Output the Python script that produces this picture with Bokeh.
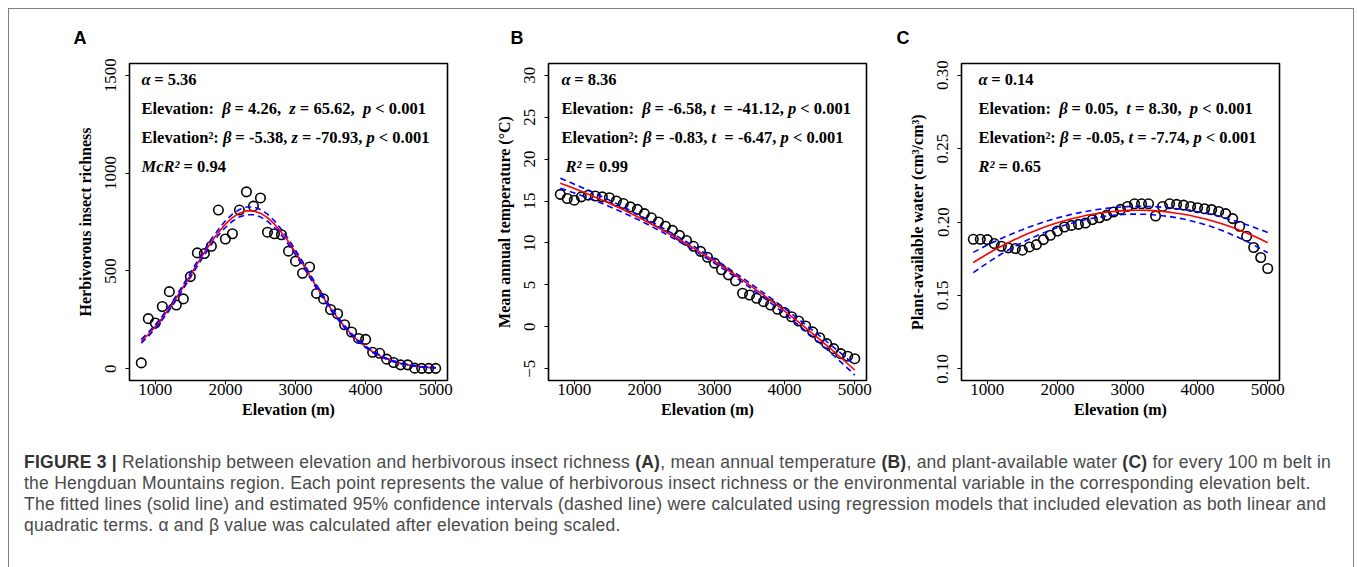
from bokeh.plotting import figure
from bokeh.models import Label, FixedTicker, Div, Range1d, ColumnDataSource
from bokeh.layouts import row, column
from bokeh.embed import file_html
from bokeh.resources import INLINE

# ---------------- data ----------------
elevation = [800, 900, 1000, 1100, 1200, 1300, 1400, 1500, 1600, 1700,
             1800, 1900, 2000, 2100, 2200, 2300, 2400, 2500, 2600, 2700,
             2800, 2900, 3000, 3100, 3200, 3300, 3400, 3500, 3600, 3700,
             3800, 3900, 4000, 4100, 4200, 4300, 4400, 4500, 4600, 4700,
             4800, 4900, 5000]

richness = [30, 256, 234, 318, 394, 326, 357, 471, 592, 589,
            626, 811, 663, 690, 811, 904, 831, 873, 698, 690,
            685, 601, 550, 488, 520, 385, 357, 303, 281, 225,
            188, 155, 150, 84, 79, 49, 32, 20, 20, 3,
            2, 2, 2]
richness_fit = [141, 175, 215, 260, 309, 363, 419, 478, 537, 594,
                649, 697, 739, 772, 795, 807, 807, 795, 772, 739,
                697, 649, 594, 537, 478, 419, 363, 309, 260, 215,
                175, 141, 112, 87, 67, 51, 38, 28, 20, 15,
                10, 7, 5]
richness_ci = [10, 10, 10, 10, 10, 11, 11, 12, 12, 13,
               14, 15, 17, 18, 19, 20, 20, 19, 18, 17,
               15, 14, 12, 11, 10, 9, 8, 7, 6, 6,
               5, 5, 4, 4, 3, 3, 3, 2, 2, 2,
               2, 1, 1]

temperature = [15.8, 15.3, 15.1, 15.5, 15.7, 15.6, 15.5, 15.4, 15.0, 14.7,
               14.3, 14.0, 13.5, 13.0, 12.5, 12.0, 11.5, 10.9, 10.3, 9.6,
               9.0, 8.3, 7.6, 6.8, 6.2, 5.5, 4.0, 3.8, 3.4, 3.0,
               2.6, 2.1, 1.7, 1.2, 0.7, 0.1, -0.6, -1.3, -2.0, -2.6,
               -3.2, -3.5, -3.8]
temperature_fit = [17.12, 16.81, 16.49, 16.16, 15.82, 15.46, 15.10, 14.73, 14.34, 13.95,
                   13.54, 13.12, 12.70, 12.26, 11.81, 11.35, 10.88, 10.39, 9.90, 9.40,
                   8.88, 8.36, 7.82, 7.28, 6.72, 6.15, 5.57, 4.98, 4.38, 3.77,
                   3.15, 2.52, 1.88, 1.22, 0.56, -0.12, -0.81, -1.50, -2.21, -2.93,
                   -3.66, -4.40, -5.15]
temperature_ci = [0.60, 0.56, 0.52, 0.49, 0.46, 0.43, 0.40, 0.38, 0.36, 0.34,
                  0.32, 0.30, 0.29, 0.28, 0.27, 0.26, 0.255, 0.25, 0.245, 0.24,
                  0.24, 0.24, 0.24, 0.24, 0.245, 0.25, 0.255, 0.26, 0.27, 0.28,
                  0.29, 0.30, 0.32, 0.34, 0.36, 0.38, 0.40, 0.43, 0.46, 0.49,
                  0.52, 0.56, 0.60]

water = [0.1882, 0.1882, 0.1880, 0.1853, 0.1835, 0.1824, 0.1819, 0.1808, 0.1830, 0.1846,
         0.1880, 0.1910, 0.1939, 0.1966, 0.1977, 0.1984, 0.1993, 0.2016, 0.2029, 0.2045,
         0.2068, 0.2086, 0.2106, 0.2124, 0.2124, 0.2124, 0.2041, 0.2106, 0.2124, 0.2120,
         0.2115, 0.2106, 0.2097, 0.2090, 0.2084, 0.2072, 0.2057, 0.2023, 0.1971, 0.1903,
         0.1826, 0.1758, 0.1683]
water_fit = [0.1724, 0.1753, 0.1782, 0.1809, 0.1835, 0.1859, 0.1882, 0.1904, 0.1925, 0.1944,
             0.1962, 0.1979, 0.1995, 0.2009, 0.2022, 0.2033, 0.2044, 0.2053, 0.2060, 0.2067,
             0.2072, 0.2076, 0.2079, 0.2080, 0.2080, 0.2079, 0.2076, 0.2072, 0.2067, 0.2060,
             0.2053, 0.2044, 0.2033, 0.2022, 0.2009, 0.1995, 0.1979, 0.1962, 0.1944, 0.1925,
             0.1904, 0.1882, 0.1859]
water_ci = [0.0069, 0.0065, 0.0061, 0.0057, 0.0053, 0.0050, 0.0047, 0.0044, 0.0041, 0.0039,
            0.0037, 0.0035, 0.0033, 0.0031, 0.0030, 0.0029, 0.0028, 0.0027, 0.0027, 0.0026,
            0.0026, 0.0026, 0.0026, 0.0026, 0.0027, 0.0027, 0.0028, 0.0029, 0.0030, 0.0031,
            0.0033, 0.0035, 0.0037, 0.0039, 0.0041, 0.0044, 0.0047, 0.0050, 0.0053, 0.0057,
            0.0061, 0.0065, 0.0069]

x_ticks = [1000, 2000, 3000, 4000, 5000]
x_tick_labels = ["1000", "2000", "3000", "4000", "5000"]
yA_ticks = [0, 500, 1000, 1500]
yA_tick_labels = ["0", "500", "1000", "1500"]
yB_ticks = [-5, 0, 5, 10, 15, 20, 25, 30]
yB_tick_labels = ["\u22125", "0", "5", "10", "15", "20", "25", "30"]
yC_ticks = [0.10, 0.15, 0.20, 0.25, 0.30]
yC_tick_labels = ["0.10", "0.15", "0.20", "0.25", "0.30"]

# ---------------- text metrics (Times / Liberation Serif) ----------------
BOLD_W = {' ': 250, ',': 250, '.': 250, '-': 333, '=': 570, '<': 570, ':': 333,
          '\u00b2': 300, 'E': 667, 'l': 278, 'e': 444, 'v': 500, 'a': 500,
          't': 333, 'i': 278, 'o': 500, 'n': 556}
BI_W = {' ': 250, '\u03b1': 520, '\u03b2': 500, 'z': 389, 't': 278, 'p': 500,
        'M': 889, 'c': 444, 'R': 667, '\u00b2': 300}
SERIF = "Liberation Serif"
ANN_SIZE = 16.5
FRAME_W = 318
FRAME_H = 317


def add_line(p, x0, y, pieces):
    x = x0
    for txt, style in pieces:
        table = BI_W if style == "bold italic" else BOLD_W
        lead = len(txt) - len(txt.lstrip(" "))
        x += lead * table[" "] / 1000 * ANN_SIZE
        core = txt.strip(" ")
        if core:
            p.add_layout(Label(x=x, y=y, x_units="screen", y_units="screen", text=core,
                               text_font=SERIF, text_font_style=style,
                               text_font_size=f"{ANN_SIZE}px", text_color="black",
                               text_baseline="alphabetic", text_align="left"))
            x += sum(table.get(c, 500) for c in core) / 1000 * ANN_SIZE
        trail = len(txt) - len(txt.rstrip(" "))
        x += trail * table[" "] / 1000 * ANN_SIZE


def make_panel(left, right, letter, letter_offset, ylabel, yrange, yticks, ylabels, yvals, fit, ci):
    p = figure(frame_width=FRAME_W, frame_height=FRAME_H,
               x_range=Range1d(632, 5168), y_range=Range1d(*yrange),
               output_backend="svg", toolbar_location=None, title=letter,
               min_border_left=left, min_border_right=right, min_border_top=54, min_border_bottom=60)
    p.background_fill_color = "white"
    p.border_fill_color = "white"
    p.outline_line_color = "black"
    p.outline_line_width = 1.6
    p.outline_line_alpha = 1.0
    p.title.align = "left"
    p.title.offset = letter_offset
    p.title.standoff = 31
    p.title.text_font = "Liberation Sans"
    p.title.text_font_style = "bold"
    p.title.text_font_size = "18px"
    p.title.text_color = "black"
    p.xgrid.grid_line_color = None
    p.ygrid.grid_line_color = None
    p.xaxis.ticker = FixedTicker(ticks=x_ticks)
    p.xaxis.major_label_overrides = dict(zip(x_ticks, x_tick_labels))
    p.yaxis.ticker = FixedTicker(ticks=yticks)
    p.yaxis.major_label_overrides = dict(zip(yticks, ylabels))
    p.yaxis.major_label_orientation = "vertical"
    p.xaxis.axis_label = "Elevation (m)"
    p.yaxis.axis_label = ylabel
    for ax in (p.xaxis[0], p.yaxis[0]):
        ax.axis_line_color = None
        ax.major_tick_in = 0
        ax.major_tick_out = 4
        ax.major_tick_line_color = "black"
        ax.major_tick_line_width = 1
        ax.minor_tick_line_color = None
        ax.major_label_text_font = SERIF
        ax.major_label_text_font_size = "17px"
        ax.major_label_text_color = "black"
        ax.axis_label_text_font = SERIF
        ax.axis_label_text_font_style = "bold"
        ax.axis_label_text_font_size = "16px"
        ax.axis_label_text_color = "black"
    p.xaxis.major_label_standoff = -1
    p.xaxis.axis_label_standoff = 3
    p.yaxis.major_label_standoff = 9
    p.yaxis.axis_label_standoff = 9

    src = ColumnDataSource(dict(x=elevation, y=yvals, fit=fit,
                                lo=[f - c for f, c in zip(fit, ci)],
                                hi=[f + c for f, c in zip(fit, ci)]))
    p.scatter("x", "y", source=src, size=9.5, fill_color=None, line_color="black", line_width=1.6)
    p.line("x", "fit", source=src, line_color="#ff0000", line_width=1.6)
    p.line("x", "lo", source=src, line_color="#0000ff", line_width=1.6, line_dash="6 4")
    p.line("x", "hi", source=src, line_color="#0000ff", line_width=1.6, line_dash="6 4")
    return p


pA = make_panel(120, 23, "A", -56, "Herbivorous insect richness", (-60, 1560),
                yA_ticks, yA_tick_labels, richness, richness_fit, richness_ci)
pB = make_panel(78, 20, "B", -38, "Mean annual temperature (\u00b0C)", (-6.4, 31.4),
                yB_ticks, yB_tick_labels, temperature, temperature_fit, temperature_ci)
pC = make_panel(75, 74, "C", -65, "Plant-available water (cm\u00b3/cm\u00b3)", (0.092, 0.308),
                yC_ticks, yC_tick_labels, water, water_fit, water_ci)

B = "bold"
BI = "bold italic"
BASE = [300.7, 271.7, 243.0, 214.5]

# Panel A annotations
add_line(pA, 12, BASE[0], [("\u03b1", BI), (" = 5.36", B)])
add_line(pA, 12, BASE[1], [("Elevation:  ", B), ("\u03b2", BI), (" =  4.26, ", B), ("z", BI),
                           (" =  65.62, ", B), ("p", BI), (" < 0.001", B)])
add_line(pA, 12, BASE[2], [("Elevation\u00b2: ", B), ("\u03b2", BI), (" = -5.38, ", B), ("z", BI),
                           (" = -70.93, ", B), ("p", BI), (" < 0.001", B)])
add_line(pA, 12, BASE[3], [("McR\u00b2", BI), (" = 0.94", B)])

# Panel B annotations
add_line(pB, 13, BASE[0], [("\u03b1", BI), (" = 8.36", B)])
add_line(pB, 13, BASE[1], [("Elevation:  ", B), ("\u03b2", BI), (" = -6.58, ", B), ("t", BI),
                           ("  = -41.12, ", B), ("p", BI), (" < 0.001", B)])
add_line(pB, 13, BASE[2], [("Elevation\u00b2: ", B), ("\u03b2", BI), (" = -0.83, ", B), ("t", BI),
                           ("  = -6.47, ", B), ("p", BI), (" < 0.001", B)])
add_line(pB, 17, BASE[3], [("R\u00b2", BI), (" = 0.99", B)])

# Panel C annotations
add_line(pC, 17, BASE[0], [("\u03b1", BI), (" = 0.14", B)])
add_line(pC, 17, BASE[1], [("Elevation:  ", B), ("\u03b2", BI), (" =  0.05, ", B), ("t", BI),
                           (" =  8.30, ", B), ("p", BI), (" < 0.001", B)])
add_line(pC, 17, BASE[2], [("Elevation\u00b2: ", B), ("\u03b2", BI), (" = -0.05, ", B), ("t", BI),
                           (" = -7.74, ", B), ("p", BI), (" < 0.001", B)])
add_line(pC, 17, BASE[3], [("R\u00b2", BI), (" = 0.65", B)])

caption_html = (
    '<div style="padding:7px 0 0 10px; font-family:\'Liberation Sans\', Arial, sans-serif; '
    'font-size:17.5px; line-height:21px; color:#4a4a4a; letter-spacing:0.24px; white-space:nowrap;">'
    '<b style="color:#333">FIGURE 3 |</b> Relationship between elevation and herbivorous insect richness '
    '<b style="color:#333">(A)</b>, mean annual temperature <b style="color:#333">(B)</b>, and '
    'plant-available water <b style="color:#333">(C)</b> for every 100 m belt in<br>'
    'the Hengduan Mountains region. Each point represents the value of herbivorous insect richness or the '
    'environmental variable in the corresponding elevation belt.<br>'
    'The fitted lines (solid line) and estimated 95% confidence intervals (dashed line) were calculated using '
    'regression models that included elevation as both linear and<br>'
    'quadratic terms. \u03b1 and \u03b2 value was calculated after elevation being scaled.'
    '</div>'
)
caption = Div(text=caption_html, width=1344, height=126)

layout = column(row(pA, pB, pC), caption,
                styles={"border": "1px solid #808080", "border-bottom": "none",
                        "margin-left": "8px", "margin-top": "8px",
                        "width": "1344px", "box-sizing": "content-box"})

open("out.html", "w").write(file_html(layout, INLINE))
